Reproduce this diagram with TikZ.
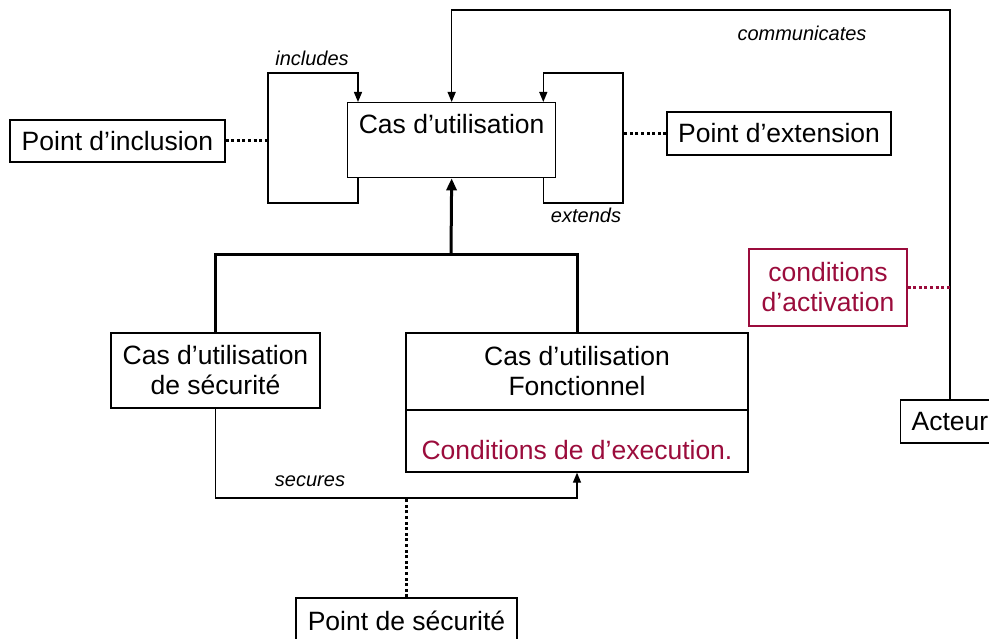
\documentclass[tikz,border=0pt]{standalone}
\usepackage{fontspec}
\setmainfont{Liberation Sans}
\usetikzlibrary{arrows.meta}
\definecolor{wine}{RGB}{155,12,60}
\begin{document}
\begin{tikzpicture}[x=1pt,y=-1pt,
  box/.style={draw, line width=1.3pt, fill=white, inner sep=0pt, align=center,
    font=\fontsize{26.5}{31}\selectfont},
  redbox/.style={box, draw=wine, text=wine},
  lbl/.style={font=\fontsize{20}{24}\selectfont\itshape, inner sep=0pt},
  flow/.style={line width=1.3pt, -{Triangle[length=10pt,width=8pt]}},
  heavy/.style={line width=3pt},
  dots/.style={line width=3pt, dash pattern=on 3pt off 2.6pt}]
\useasboundingbox (0,0) rectangle (989,639);

% main use case with its title at the top
\node[box, minimum width=208pt, minimum height=75pt, anchor=north west] (cu) at (347,102) {};
\node[anchor=north, inner sep=0pt, font=\fontsize{26.5}{31}\selectfont] (cutext) at ([yshift=-12pt]cu.north) {Cas d’utilisation};

% side points
\node[box, minimum width=215pt, minimum height=42pt] (pinc) at (117.5,141) {Point d’inclusion};
\node[box, minimum width=224pt, minimum height=43pt] (pext) at (779,133.5) {Point d’extension};

% activation conditions and actor
\node[redbox, minimum width=158pt, minimum height=77pt] (cact) at (828,287.5) {conditions\\[-1pt]d’activation};
\node[box, minimum height=43pt, anchor=west, inner xsep=11pt, text width=78pt, align=left] (acteur) at (900,421.5) {Acteur};

% specialised use cases
\node[box, minimum width=209pt, minimum height=75pt] (sec) at (215.5,370.5) {Cas d’utilisation\\[-1pt]de sécurité};
\node[box, minimum width=342pt, minimum height=77pt] (fonc) at (577,371.5) {Cas d’utilisation\\[-1pt]Fonctionnel};
\node[box, minimum width=342pt, minimum height=62pt, text=wine, text depth=0pt, text height=36pt] (cond) at (577,441) {Conditions de d’execution.};

% security point
\node[box, minimum width=221pt, minimum height=46pt] (psec) at (406.5,621) {Point de sécurité};

% loop corners and routing heights
\coordinate (incBL) at (268,203);
\coordinate (incTL) at (268,73);
\coordinate (extBR) at (623,203);
\coordinate (extTR) at (623,73);
\coordinate (comTR) at (950,10);
\coordinate (join) at (451,255);
\coordinate (secy) at (0,498);

% includes / extends loops
\draw[flow] ([xshift=11pt]cu.south west) |- (incBL) -- (incTL) -| ([xshift=11pt]cu.north west);
\draw[flow] ([xshift=-13pt]cu.south east) |- (extBR) -- (extTR) -| ([xshift=-13pt]cu.north east);

% communicates
\draw[flow] ([xshift=50pt]acteur.north west) -- (comTR) -| (cu.north);

% dotted attachments
\draw[dots] (pinc.east) -- (pinc.east -| incBL);
\draw[dots] (pext.west) -- (pext.west -| extBR);
\draw[dots, wine] (cact.east) -- (cact.east -| comTR);

% generalisation
\draw[heavy] (sec.north) |- (fonc.north |- join) -- (fonc.north);
\draw[heavy, -{Triangle[length=12pt,width=10pt]}] (join) -- (cu.south);

% secures
\draw[flow] (sec.south) |- (cond.south |- secy) -- (cond.south);
\draw[dots] (psec.north) -- (psec.north |- secy);

% relation labels
\node[lbl] (linc) at (312,58) {includes};
\node[lbl] (lcom) at (802,33) {communicates};
\node[lbl] (lext) at (586,215) {extends};
\node[lbl] (lsec) at (310,481) {secures};
\end{tikzpicture}
\end{document}
